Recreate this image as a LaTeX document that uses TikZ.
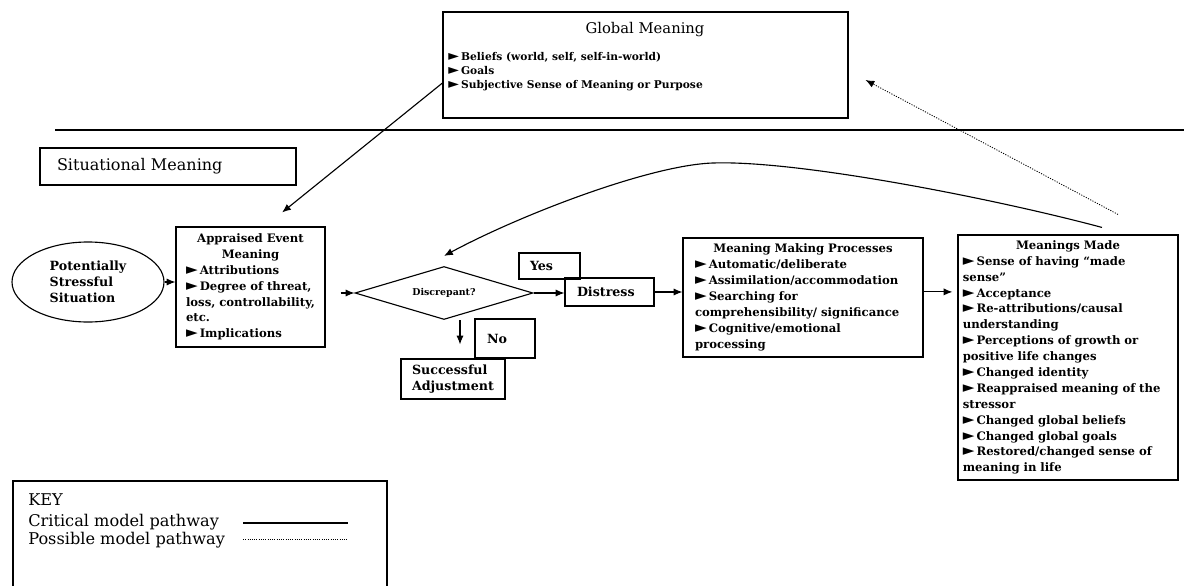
\documentclass[tikz,border=0pt]{standalone}
\usepackage{fontspec}
\usepackage{graphicx}
\setmainfont{DejaVu Serif}
\newfontfamily\symfont{DejaVu Sans}
\usetikzlibrary{shapes.geometric,arrows.meta}

\newcommand{\tri}{\scalebox{1.3}{\symfont ►}\kern1.5pt}
\newcommand{\ctr}[1]{\hspace*{\fill}#1\hspace*{\fill}\null}

\tikzset{
  box/.style={draw, line width=0.8pt, inner ysep=0pt},
  body/.style={font=\fontsize{8.3}{11.3}\selectfont\bfseries, align=left},
  word/.style={font=\fontsize{9}{11.3}\selectfont\bfseries, align=left},
  link/.style={line width=0.8pt, -{Latex[length=2.2mm,width=1.8mm]}},
}

\begin{document}
\begin{tikzpicture}
  \useasboundingbox (0cm,0cm) rectangle (29.6cm,-14.625cm);
  \draw[line width=1.2pt] (1.375cm,-3.25cm) -- (29.6cm,-3.25cm);

  % global meaning
  \node[box, minimum width=10.125cm, minimum height=2.65cm] (glob) at (16.1375cm,-1.625cm) {};
  \node[font=\fontsize{10.5}{12}\selectfont] (globhead) at (16.125cm,-0.75cm) {Global Meaning};
  \node[anchor=west, inner sep=0pt, align=left, font=\fontsize{7.6}{9.9}\selectfont\bfseries] (globlist) at (11.2cm,-1.8cm)
    {\tri Beliefs (world, self, self-in-world)\\ \tri Goals\\ \tri Subjective Sense of Meaning or Purpose};

  % situational meaning
  \node[box, minimum height=0.925cm, inner xsep=0.425cm, text width=5.55cm, align=left, font=\fontsize{11.4}{13}\selectfont] (sitmean) at (4.2cm,-4.1625cm) {Situational Meaning};

  \node[draw, line width=0.8pt, ellipse, minimum width=3.8cm, minimum height=2cm, inner sep=0pt, word] (stress) at (2.2cm,-7.05cm)
    {Potentially\\Stressful\\Situation};
  \node[box, minimum height=3cm, inner xsep=0.25cm, text width=3.225cm, body] (app) at (6.2625cm,-7.175cm)
    {\ctr{Appraised Event}\\ \ctr{Meaning}\\ \tri Attributions\\ \tri Degree of threat,\\ loss, controllability,\\ etc.\\ \tri Implications};
  \node[draw, line width=0.8pt, diamond, aspect=3.36, minimum width=4.45cm, minimum height=1.325cm, inner sep=0pt,
    font=\fontsize{6.7}{8}\selectfont\bfseries] (dia) at (11.1cm,-7.325cm) {Discrepant?};
  \node[box, minimum height=0.7cm, inner xsep=0.3cm, text width=1.625cm, word] (dist) at (15.2375cm,-7.3cm) {Distress};
  \node[box, minimum height=0.65cm, inner xsep=0.275cm, text width=0.975cm, word] (yes) at (13.7375cm,-6.65cm) {Yes};
  \node[box, minimum height=1cm, inner xsep=0.275cm, text width=2.05cm, word] (succ) at (11.325cm,-9.475cm) {Successful\\Adjustment};
  \node[box, minimum height=0.975cm, inner xsep=0.3cm, text width=0.9cm, word] (no) at (12.625cm,-8.4625cm) {No\\[3pt]};
  \node[box, minimum height=2.975cm, inner xsep=0.3cm, text width=5.4cm, body] (mmp) at (20.075cm,-7.4375cm)
    {\ctr{Meaning Making Processes}\\ \tri Automatic/deliberate\\ \tri Assimilation/accommodation\\ \tri Searching for\\
     comprehensibility/ significance\\ \tri Cognitive/emotional\\ processing};
  \node[box, minimum height=6.125cm, inner xsep=0.12cm, text width=5.26cm, body] (mm) at (26.7cm,-8.9375cm)
    {\ctr{Meanings Made}\\ \tri Sense of having “made\\ sense”\\ \tri Acceptance\\ \tri Re-attributions/causal\\ understanding\\
     \tri Perceptions of growth or\\ positive life changes\\ \tri Changed identity\\ \tri Reappraised meaning of the\\ stressor\\
     \tri Changed global beliefs\\ \tri Changed global goals\\ \tri Restored/changed sense of\\ meaning in life};

  % pathways
  \draw[link] (stress.east) -- (stress.east -| app.west);
  \draw[link, shorten <=0.375cm] (app.east |- dia.west) -- (dia.west);
  \draw[link] (dia.east) -- (dia.east -| dist.west);
  \draw[link, shorten >=0.35cm] ([xshift=0.4cm]dia.south) -- ([xshift=0.175cm]succ.north);
  \draw[link] (dist.east) -- (dist.east -| mmp.west);
  \coordinate (mmpout) at ([yshift=0.14cm]mmp.east);
  \draw[link, shorten >=0.125cm] (mmpout) -- (mmpout -| mm.west);
  \draw[link] ([yshift=-0.45cm]glob.west) -- ([xshift=0.79cm,yshift=0.35cm]app.north);
  \draw[link] ([xshift=0.85cm,yshift=0.175cm]mm.north) .. controls (25cm,-5cm) and (20cm,-4cm) .. (17.825cm,-4.075cm)
    .. controls (16.25cm,-4.125cm) and (13cm,-5.375cm) .. ([yshift=0.25cm]dia.north);
  \draw[link, densely dotted, line width=0.6pt] ([xshift=1.25cm,yshift=0.5cm]mm.north) -- ([xshift=0.425cm,yshift=-0.375cm]glob.east);

  % key
  \draw[line width=0.8pt] (0.325cm,-12.025cm) rectangle (9.675cm,-15cm);
  \node[anchor=west, inner sep=0pt, font=\fontsize{11.5}{13}\selectfont] (keyhead) at (0.7cm,-12.5cm) {KEY};
  \node[anchor=west, inner sep=0pt, font=\fontsize{11.5}{13}\selectfont] (keycrit) at (0.7cm,-13.05cm) {Critical model pathway};
  \node[anchor=west, inner sep=0pt, font=\fontsize{11.5}{13}\selectfont] (keyposs) at (0.7cm,-13.5cm) {Possible model pathway};
  \draw[line width=0.8pt] (6.075cm,-13.075cm) -- (8.7cm,-13.075cm);
  \draw[densely dotted, line width=0.6pt] (6.075cm,-13.475cm) -- (8.7cm,-13.475cm);
\end{tikzpicture}
\end{document}
